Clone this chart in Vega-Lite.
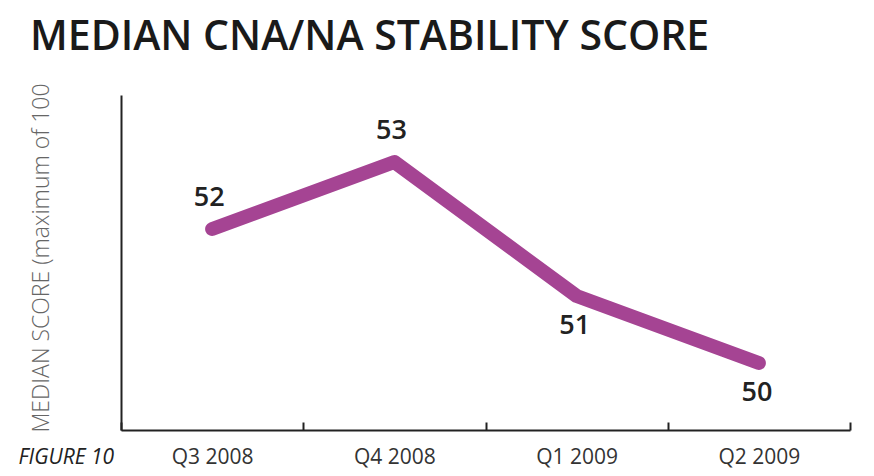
{
  "$schema": "https://vega.github.io/schema/vega-lite/v6.json",
  "width": 729,
  "height": 335,
  "autosize": {"type": "none"},
  "padding": {"left": 121, "top": 95, "right": 24, "bottom": 46},
  "background": "white",
  "title": {
    "text": "MEDIAN CNA/NA STABILITY SCORE",
    "anchor": "start",
    "frame": "group",
    "dx": -91,
    "offset": 24,
    "fontSize": 41,
    "font": "Open Sans",
    "fontWeight": 600,
    "color": "#1a1a1a"
  },
  "config": {
    "view": {"stroke": null},
    "font": "Open Sans"
  },
  "data": {
    "values": [
      {"quarter": "Q3 2008", "score": 52},
      {"quarter": "Q4 2008", "score": 53},
      {"quarter": "Q1 2009", "score": 51},
      {"quarter": "Q2 2009", "score": 50}
    ]
  },
  "encoding": {
    "x": {
      "field": "quarter",
      "type": "ordinal",
      "sort": null,
      "bandPosition": 0.5,
      "scale": {"type": "band", "paddingInner": 0, "paddingOuter": 0},
      "axis": {
        "title": "FIGURE 10",
        "titleFont": "Open Sans",
        "titleFontStyle": "italic",
        "titleFontWeight": 400,
        "titleFontSize": 21,
        "titleColor": "#222",
        "titleX": -103,
        "titleY": 27,
        "titleAlign": "left",
        "titleBaseline": "middle",
        "labelAngle": 0,
        "labelFontSize": 21,
        "labelColor": "#333",
        "labelPadding": 24,
        "labelBaseline": "top",
        "domainColor": "#222",
        "domainWidth": 2,
        "tickBand": "extent",
        "tickColor": "#222",
        "tickWidth": 2,
        "tickSize": -8,
        "grid": false
      }
    },
    "y": {
      "field": "score",
      "type": "quantitative",
      "scale": {"domain": [49, 54], "zero": false, "nice": false},
      "axis": {
        "title": "MEDIAN SCORE (maximum of 100",
        "titleFont": "Open Sans",
        "titleFontWeight": 300,
        "titleFontSize": 23,
        "titleColor": "#666",
        "titleAngle": -90,
        "titleX": -80,
        "titleY": 337,
        "titleAlign": "left",
        "titleBaseline": "middle",
        "labels": false,
        "ticks": false,
        "grid": false,
        "domainColor": "#222",
        "domainWidth": 2
      }
    }
  },
  "layer": [
    {
      "mark": {"type": "line", "color": "#a54493", "strokeWidth": 14, "strokeCap": "round", "strokeJoin": "round"}
    },
    {
      "transform": [{"filter": "datum.score >= 52"}],
      "mark": {"type": "text", "fontSize": 27, "fontWeight": 600, "font": "Open Sans", "color": "#222", "dy": -31, "dx": -3, "baseline": "middle"},
      "encoding": {"text": {"field": "score", "type": "quantitative"}}
    },
    {
      "transform": [{"filter": "datum.score < 52"}],
      "mark": {"type": "text", "fontSize": 27, "fontWeight": 600, "font": "Open Sans", "color": "#222", "dy": 30, "dx": -2, "baseline": "middle"},
      "encoding": {"text": {"field": "score", "type": "quantitative"}}
    }
  ]
}
